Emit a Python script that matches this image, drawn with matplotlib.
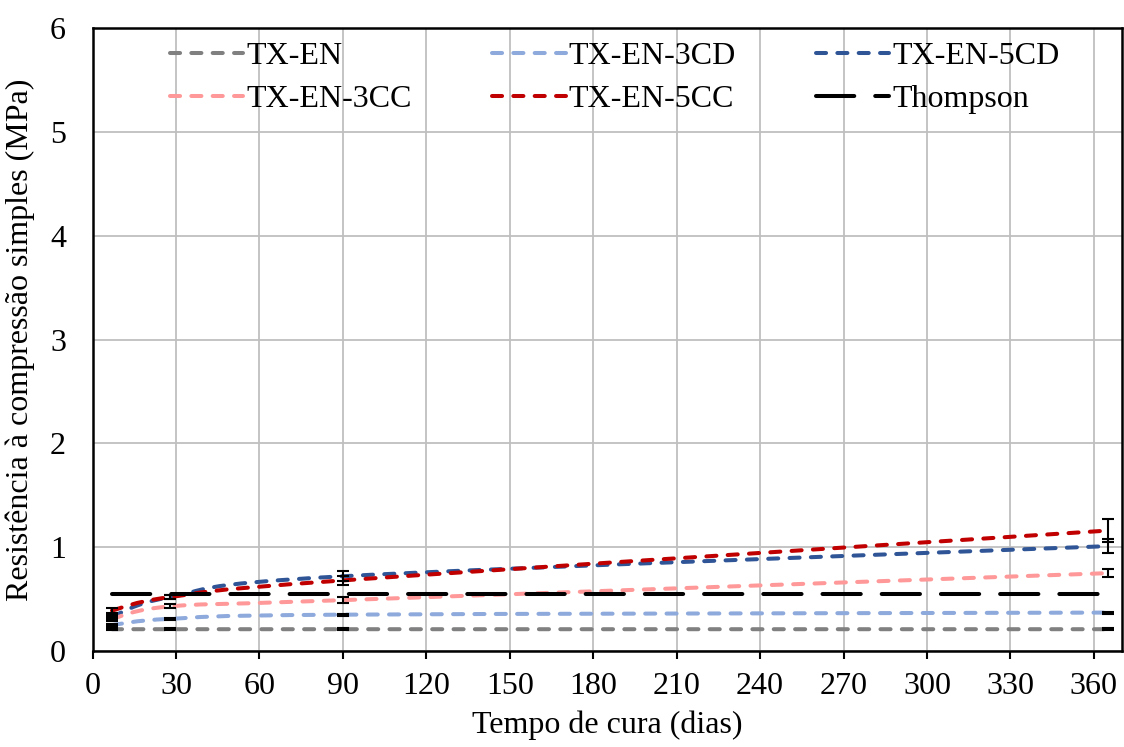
import matplotlib
matplotlib.use("Agg")
import matplotlib.pyplot as plt
import numpy as np
from matplotlib.path import Path
from matplotlib.patches import PathPatch
from matplotlib.lines import Line2D

plt.rcParams['font.family'] = ['Liberation Serif', 'DejaVu Serif']
plt.rcParams['font.size'] = 23

# tempo de cura (dias)
dias = [7, 28, 90, 365]

# resistência média (MPa) e desvio
tx_en = [0.21, 0.21, 0.21, 0.21]
tx_en_err = [0.01, 0.01, 0.01, 0.01]
tx_en_3cd = [0.25, 0.31, 0.35, 0.37]
tx_en_3cd_err = [0.01, 0.01, 0.01, 0.01]
tx_en_5cd = [0.33, 0.52, 0.72, 1.01]
tx_en_5cd_err = [0.02, 0.02, 0.05, 0.07]
tx_en_3cc = [0.31, 0.43, 0.49, 0.75]
tx_en_3cc_err = [0.02, 0.02, 0.03, 0.04]
tx_en_5cc = [0.39, 0.52, 0.68, 1.16]
tx_en_5cc_err = [0.02, 0.02, 0.04, 0.11]
thompson = [0.55, 0.55, 0.55, 0.55]

series = [
    ('TX-EN', tx_en, tx_en_err, '#808080'),
    ('TX-EN-3CD', tx_en_3cd, tx_en_3cd_err, '#8EA9DB'),
    ('TX-EN-5CD', tx_en_5cd, tx_en_5cd_err, '#2F5597'),
    ('TX-EN-3CC', tx_en_3cc, tx_en_3cc_err, '#FF9999'),
    ('TX-EN-5CC', tx_en_5cc, tx_en_5cc_err, '#C00000'),
]

LW = 2.9
DASH = (0, (2.5, 2.8))
LONGDASH = (0, (9.5, 5.2))


def curva_suave(x, y):
    # bezier pelos pontos, estilo linha suavizada do excel
    p = np.column_stack([x, y]).astype(float)
    n = len(p)
    verts = [p[0]]
    codes = [Path.MOVETO]
    for i in range(n - 1):
        a = p[i - 1] if i > 0 else p[i]
        b = p[i]
        c = p[i + 1]
        d = p[i + 2] if i + 2 < n else p[i + 1]
        c1 = b + (c - a) / 6.0
        c2 = c - (d - b) / 6.0
        verts += [c1, c2, c]
        codes += [Path.CURVE4] * 3
    return Path(verts, codes)


fig = plt.figure(figsize=(11.24, 7.47), dpi=100)
ax = fig.add_axes([0.0823, 0.1285, 0.9157, 0.834])

handles = {}
for nome, y, err, cor in series:
    patch = PathPatch(curva_suave(dias, y), facecolor='none', edgecolor=cor,
                      lw=LW, linestyle=DASH, capstyle='round', zorder=3)
    ax.add_patch(patch)
    handles[nome] = Line2D([], [], color=cor, lw=LW, linestyle=DASH,
                           dash_capstyle='round')

for nome, y, err, cor in series:
    ax.errorbar(dias, y, yerr=err, fmt='none', ecolor='black', elinewidth=1.5,
                capsize=4, capthick=1.5, zorder=4)

ax.plot(dias, thompson, color='black', lw=LW, linestyle=LONGDASH,
        dash_capstyle='round', zorder=3)
handles['Thompson'] = Line2D([], [], color='black', lw=LW, linestyle=LONGDASH,
                             dash_capstyle='round')

ax.set_xlim(0, 370)
ax.set_ylim(0, 6)
ax.set_xticks(np.arange(0, 361, 30))
ax.set_yticks(np.arange(0, 7, 1))
ax.grid(True, color='#BFBFBF', lw=1.3)
ax.set_axisbelow(True)
for s in ax.spines.values():
    s.set_linewidth(1.8)
    s.set_color('black')
ax.tick_params(axis='x', direction='out', length=6, width=1.5, pad=9)
ax.tick_params(axis='y', length=0, pad=19)

ax.set_xlabel('Tempo de cura (dias)')
ax.set_ylabel('Resistência à compressão simples (MPa)')
ax.xaxis.set_label_coords(0.5, -0.095)
ax.yaxis.set_label_coords(-0.056, 0.5)

ordem = ['TX-EN', 'TX-EN-3CC', 'TX-EN-3CD', 'TX-EN-5CC', 'TX-EN-5CD', 'Thompson']
ax.legend([handles[k] for k in ordem], ordem, ncol=3, frameon=False,
          loc='upper left', bbox_to_anchor=(170 / 1124, 1 - 42 / 747),
          bbox_transform=fig.transFigure, borderpad=0, borderaxespad=0,
          handlelength=2.3, handletextpad=0.1, columnspacing=2.5,
          labelspacing=0.42)

fig.savefig('out.png', dpi=100)
